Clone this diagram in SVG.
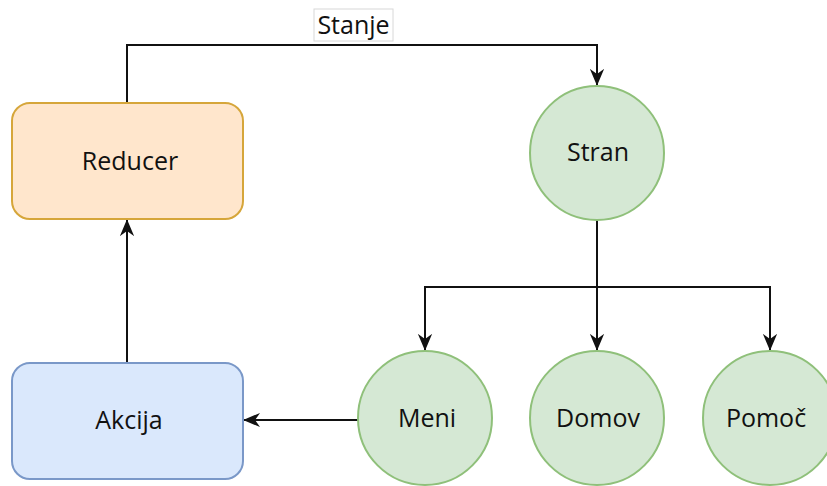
<svg xmlns="http://www.w3.org/2000/svg" width="827" height="486" viewBox="0 0 827 486">
  <style>
    .lbl { font-family: "Open Sans", "Noto Sans", sans-serif; font-size: 25px; fill: #111111; text-anchor: middle; dominant-baseline: central; }
    .orange { fill: #ffe6cc; stroke: #d6a63a; stroke-width: 2; }
    .blue { fill: #dae8fc; stroke: #7a98c8; stroke-width: 2; }
    .green { fill: #d5e8d4; stroke: #8fc07a; stroke-width: 2; }
    .edge { fill: none; stroke: #111; stroke-width: 2; }
  </style>
  <defs>
    <marker id="arrow" viewBox="0 0 10 10" refX="9.5" refY="5" markerWidth="17" markerHeight="17" markerUnits="userSpaceOnUse" orient="auto">
      <path d="M0,0.8 L10,5 L0,9.2 L3,5 Z" fill="#111"/>
    </marker>
  </defs>
  <rect width="827" height="486" fill="#ffffff"/>

  <g id="connectors">
    <path class="edge" d="M127,103 V45 H597 V85" marker-end="url(#arrow)"/>
    <path class="edge" d="M597,220 V350" marker-end="url(#arrow)"/>
    <path class="edge" d="M597,287 H425 V350" marker-end="url(#arrow)"/>
    <path class="edge" d="M597,287 H770 V350" marker-end="url(#arrow)"/>
    <path class="edge" d="M358,420 H244" marker-end="url(#arrow)"/>
    <path class="edge" d="M127,363 V220" marker-end="url(#arrow)"/>
    <g id="label-stanje">
      <rect x="314" y="9" width="79" height="32" fill="#ffffff" stroke="#d8d8d8" stroke-width="1"/>
      <text class="lbl" x="353.5" y="24">Stanje</text>
    </g>
  </g>

  <g id="reducer">
    <rect class="orange" x="12" y="103" width="231" height="116" rx="18"/>
    <text class="lbl" x="130" y="160">Reducer</text>
  </g>
  <g id="akcija">
    <rect class="blue" x="12" y="363" width="231" height="116" rx="18"/>
    <text class="lbl" x="129" y="419">Akcija</text>
  </g>
  <g id="stran">
    <circle class="green" cx="597" cy="153" r="67"/>
    <text class="lbl" x="598" y="151">Stran</text>
  </g>
  <g id="meni">
    <circle class="green" cx="425" cy="418" r="67"/>
    <text class="lbl" x="427" y="417">Meni</text>
  </g>
  <g id="domov">
    <circle class="green" cx="597" cy="418" r="67"/>
    <text class="lbl" x="598" y="417">Domov</text>
  </g>
  <g id="pomoc">
    <circle class="green" cx="770" cy="418" r="67"/>
    <text class="lbl" x="766" y="417">Pomoč</text>
  </g>
</svg>
